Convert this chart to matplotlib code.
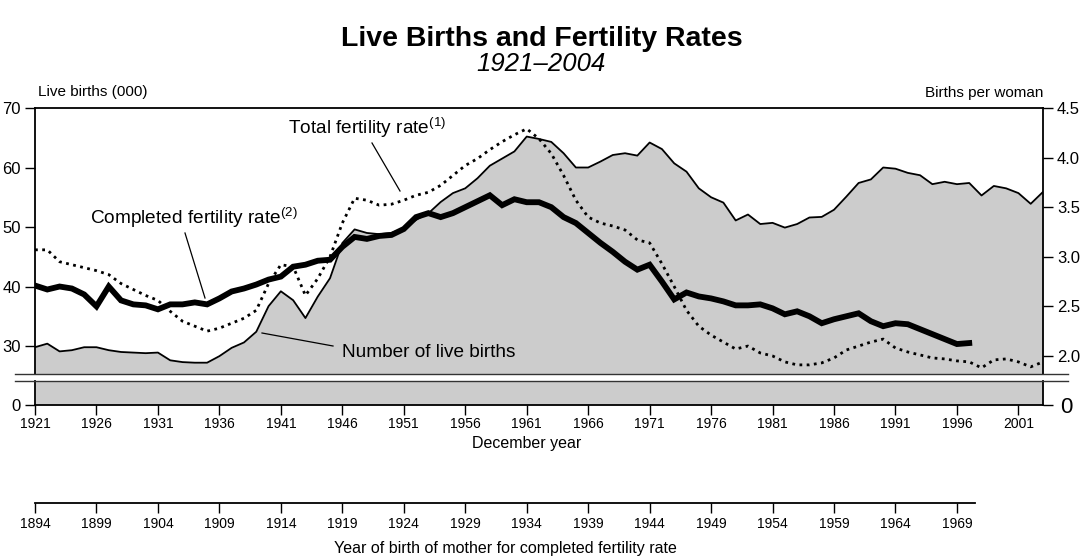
import matplotlib
matplotlib.use("Agg")
import matplotlib.pyplot as plt
import numpy as np
from matplotlib.lines import Line2D

plt.rcParams['font.family'] = ['Liberation Sans', 'DejaVu Sans']
plt.rcParams['mathtext.fontset'] = 'custom'
plt.rcParams['mathtext.rm'] = 'Liberation Sans'
plt.rcParams['mathtext.default'] = 'regular'

# ---- data ----
years = np.arange(1921, 2004)
births = [29.8, 30.4, 29.1, 29.3, 29.8, 29.8, 29.3, 29.0, 28.9, 28.8,
          28.9, 27.6, 27.3, 27.2, 27.2, 28.3, 29.7, 30.6, 32.4, 36.7,
          39.2, 37.7, 34.7, 38.3, 41.4, 47.3, 49.6, 49.0, 48.8, 49.0,
          49.8, 51.2, 52.3, 54.2, 55.7, 56.5, 58.2, 60.3, 61.5, 62.7,
          65.2, 64.8, 64.3, 62.4, 60.0, 60.0, 61.0, 62.1, 62.4, 62.0,
          64.2, 63.1, 60.7, 59.3, 56.5, 55.0, 54.1, 51.1, 52.1, 50.5,
          50.7, 49.9, 50.5, 51.6, 51.7, 52.9, 55.1, 57.4, 58.0, 60.0,
          59.8, 59.1, 58.7, 57.2, 57.6, 57.2, 57.4, 55.3, 56.9, 56.5,
          55.7, 53.9, 55.9]
tfr = [3.07, 3.07, 2.95, 2.92, 2.89, 2.86, 2.82, 2.73, 2.67, 2.61,
       2.56, 2.45, 2.35, 2.30, 2.25, 2.28, 2.33, 2.38, 2.46, 2.73,
       2.92, 2.90, 2.61, 2.78, 3.00, 3.34, 3.59, 3.57, 3.52, 3.53,
       3.57, 3.62, 3.65, 3.72, 3.82, 3.92, 3.99, 4.08, 4.16, 4.23,
       4.29, 4.19, 4.04, 3.82, 3.57, 3.40, 3.34, 3.31, 3.27, 3.17,
       3.14, 2.93, 2.70, 2.46, 2.30, 2.21, 2.14, 2.07, 2.10, 2.03,
       2.00, 1.94, 1.91, 1.91, 1.93, 1.98, 2.06, 2.10, 2.14, 2.17,
       2.08, 2.04, 2.01, 1.98, 1.97, 1.95, 1.94, 1.88, 1.96, 1.97,
       1.94, 1.89, 1.94]
cfr_years = np.arange(1921, 1998)
cfr = [2.71, 2.67, 2.70, 2.68, 2.62, 2.50, 2.70, 2.56, 2.52, 2.51,
       2.47, 2.52, 2.52, 2.54, 2.52, 2.58, 2.65, 2.68, 2.72, 2.77,
       2.80, 2.90, 2.92, 2.96, 2.97, 3.10, 3.20, 3.18, 3.21, 3.22,
       3.28, 3.40, 3.44, 3.40, 3.44, 3.50, 3.56, 3.62, 3.52, 3.58,
       3.55, 3.55, 3.50, 3.40, 3.34, 3.24, 3.14, 3.05, 2.95, 2.87,
       2.92, 2.75, 2.57, 2.64, 2.60, 2.58, 2.55, 2.51, 2.51, 2.52,
       2.48, 2.42, 2.45, 2.40, 2.33, 2.37, 2.40, 2.43, 2.35, 2.30,
       2.33, 2.32, 2.27, 2.22, 2.17, 2.12, 2.13]
cohort_offset = 27  # year of birth of mother = year - 27

GRAY = '#cccccc'
W_PX, H_PX = 1083, 560

def fx(px): return px / W_PX
def fy(py): return 1 - py / H_PX

fig = plt.figure(figsize=(10.83, 5.6), dpi=100)
left, width = fx(35), fx(1043) - fx(35)

# upper panel
ax = fig.add_axes([left, fy(374), width, (374 - 108) / H_PX])
ax.fill_between(years, births, 0, color=GRAY, lw=0)
ax.plot(years, births, color='black', lw=1.3)
ax.set_xlim(1921, 2003)
ax.set_ylim(25.3, 70)
ax.set_yticks([30, 40, 50, 60, 70])
ax.tick_params(axis='y', direction='out', length=7, width=1, labelsize=12, pad=3)
ax.tick_params(axis='x', bottom=False, labelbottom=False)
ax.spines['bottom'].set_visible(False)
ax.spines['right'].set_visible(False)
for s in ('top', 'left'):
    ax.spines[s].set_linewidth(1.3)

axr = ax.twinx()
axr.plot(cfr_years, cfr, color='black', lw=4.2, solid_joinstyle='miter')
axr.plot(years, tfr, color='black', lw=2, linestyle=(0, (1, 1.6)))
axr.set_ylim(1.818, 4.5)
axr.set_yticks(np.arange(2.0, 4.51, 0.5))
axr.set_yticklabels(['%.1f' % v for v in np.arange(2.0, 4.51, 0.5)])
axr.tick_params(axis='y', direction='out', length=7, width=1, labelsize=12, pad=3)
for s in ('bottom', 'top', 'left'):
    axr.spines[s].set_visible(False)
axr.spines['right'].set_linewidth(1.3)

# lower panel (below the break)
axb = fig.add_axes([left, fy(405), width, 24 / H_PX])
axb.fill_between(years, births, 0, color=GRAY, lw=0)
axb.set_xlim(1921, 2003)
axb.set_ylim(0, 4)
axb.set_yticks([0])
axb.set_xticks(np.arange(1921, 2002, 5))
axb.tick_params(axis='both', direction='out', length=7, width=1)
axb.tick_params(axis='y', labelsize=12)
axb.tick_params(axis='x', labelsize=10, pad=2)
axb.spines['top'].set_visible(False)
for s in ('bottom', 'left', 'right'):
    axb.spines[s].set_linewidth(1.3)
axb.set_xlabel('December year', fontsize=11.5, labelpad=3, x=(1961 - 1921) / (2003 - 1921))

axbr = axb.twinx()
axbr.set_ylim(0, 4)
axbr.set_yticks([0])
axbr.tick_params(axis='y', direction='out', length=7, width=1, labelsize=16, pad=5)
for s in ('bottom', 'top', 'left', 'right'):
    axbr.spines[s].set_visible(False)

# break lines
for py in (374, 381):
    fig.add_artist(Line2D([fx(15), fx(1068)], [fy(py), fy(py)],
                          color='#333333', lw=1))

# cohort axis
axc = fig.add_axes([left, fy(503), width, 0.0001])
axc.set_xlim(1921 - cohort_offset, 2003 - cohort_offset)
axc.set_xticks(np.arange(1894, 1970, 5))
axc.set_yticks([])
axc.patch.set_visible(False)
for s in ('top', 'left', 'right'):
    axc.spines[s].set_visible(False)
axc.spines['bottom'].set_bounds(1894, 1970.5)
axc.spines['bottom'].set_linewidth(1.3)
axc.tick_params(axis='x', direction='out', length=7, width=1, labelsize=10, pad=3)
axc.set_xlabel('Year of birth of mother for completed fertility rate',
               fontsize=11.5, labelpad=7,
               x=((1894 + 1970.5) / 2 - 1894) / (2003 - 1921))

# titles and axis captions
fig.text(0.5, fy(46), 'Live Births and Fertility Rates', ha='center',
         va='baseline', fontsize=20.5, fontweight='bold')
fig.text(0.5, fy(71), '1921\u20132004', ha='center', va='baseline',
         fontsize=18.5, style='italic')
fig.text(fx(38), fy(96), 'Live births (000)', ha='left', va='baseline', fontsize=11)
fig.text(fx(1043), fy(97), 'Births per woman', ha='right', va='baseline', fontsize=11)

# annotations
def label(txt, tx, ty, p0, p1):
    fig.text(fx(tx), fy(ty), txt, ha='left', va='baseline', fontsize=13.7)
    fig.add_artist(Line2D([fx(p0[0]), fx(p1[0])], [fy(p0[1]), fy(p1[1])],
                          color='black', lw=0.9))

label('Total fertility rate$^{(1)}$', 288, 134, (372, 143), (400, 191))
label('Completed fertility rate$^{(2)}$', 90, 224, (185, 233), (205, 298))
label('Number of live births', 342, 357, (333, 346), (262, 333))

fig.savefig('out.png', dpi=100)
